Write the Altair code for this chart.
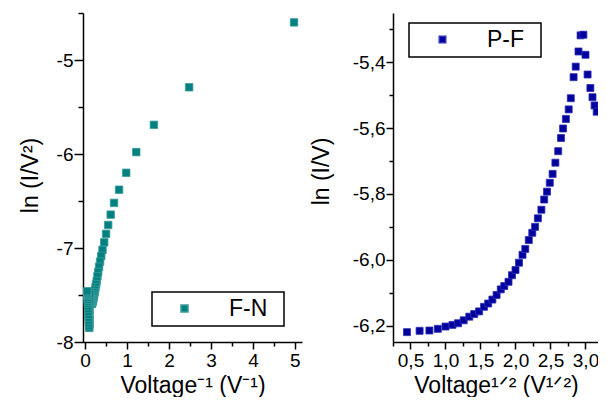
import altair as alt
import pandas as pd

FONT = "Arial, Liberation Sans, sans-serif"
TEAL = "#008080"
NAVY = "#00009c"

# F-N panel: Voltage^-1 vs ln(I/V^2)
fn_x = [4.98, 2.48, 1.64, 1.22, 0.98, 0.81, 0.69, 0.61, 0.55, 0.50,
        0.455, 0.415, 0.385, 0.357, 0.333, 0.312, 0.294, 0.277, 0.263, 0.25,
        0.238, 0.227, 0.217, 0.208, 0.20, 0.192, 0.185, 0.178, 0.172, 0.167,
        0.161, 0.156, 0.152, 0.147, 0.143, 0.139, 0.135, 0.132, 0.128, 0.125,
        0.122, 0.119, 0.116, 0.114, 0.111, 0.109, 0.106, 0.104, 0.102, 0.10,
        0.096, 0.092, 0.088, 0.085, 0.082, 0.079, 0.076, 0.073, 0.070, 0.068,
        0.066, 0.064, 0.062, 0.060, 0.058, 0.056, 0.054, 0.052]
fn_y = [-4.60, -5.29, -5.69, -5.98, -6.20, -6.38, -6.52, -6.645, -6.755, -6.85,
        -6.94, -7.02, -7.085, -7.145, -7.20, -7.255, -7.30, -7.35, -7.385, -7.415,
        -7.445, -7.47, -7.49, -7.51, -7.53, -7.545, -7.555, -7.57, -7.575, -7.585,
        -7.59, -7.595, -7.59, -7.59, -7.58, -7.575, -7.57, -7.57, -7.56, -7.525,
        -7.515, -7.495, -7.47, -7.49, -7.57, -7.655, -7.72, -7.77, -7.81, -7.85,
        -7.83, -7.80, -7.77, -7.74, -7.71, -7.68, -7.65, -7.62, -7.59, -7.57,
        -7.55, -7.53, -7.51, -7.50, -7.49, -7.48, -7.47, -7.46]

# P-F panel: Voltage^1/2 vs ln(I/V)
pf_x = [0.45, 0.63, 0.77, 0.89, 1.00, 1.10, 1.18, 1.26, 1.34, 1.41,
        1.48, 1.55, 1.61, 1.67, 1.73, 1.79, 1.84, 1.90, 1.95, 2.00,
        2.05, 2.10, 2.14, 2.19, 2.24, 2.28, 2.32, 2.37, 2.41, 2.45,
        2.49, 2.53, 2.57, 2.61, 2.65, 2.68, 2.72, 2.76, 2.79, 2.83,
        2.86, 2.90, 2.93, 2.97, 3.00, 3.03, 3.07, 3.10, 3.13, 3.16]
pf_y = [-6.220, -6.216, -6.215, -6.210, -6.203, -6.198, -6.193, -6.184, -6.173, -6.165,
        -6.157, -6.143, -6.133, -6.121, -6.107, -6.090, -6.080, -6.067, -6.047, -6.031,
        -6.009, -5.985, -5.967, -5.940, -5.918, -5.900, -5.874, -5.848, -5.817, -5.793,
        -5.766, -5.739, -5.705, -5.670, -5.630, -5.601, -5.572, -5.543, -5.509, -5.445,
        -5.413, -5.367, -5.318, -5.316, -5.377, -5.437, -5.478, -5.506, -5.531, -5.550]

fn_df = pd.DataFrame({"x": fn_x, "y": fn_y, "series": "F-N"})
pf_df = pd.DataFrame({"x": pf_x, "y": pf_y, "series": "P-F"})

left_x_ticks = [0, 0.5, 1, 1.5, 2, 2.5, 3, 3.5, 4, 4.5, 5]
left_y_ticks = [-8, -7.5, -7, -6.5, -6, -5.5, -5, -4.5]
right_x_ticks = [0.25, 0.5, 0.75, 1.0, 1.25, 1.5, 1.75, 2.0, 2.25, 2.5, 2.75, 3.0]
right_y_ticks = [-6.2, -6.1, -6.0, -5.9, -5.8, -5.7, -5.6, -5.5, -5.4, -5.3]


def tsize(test, minor, major):
    return {"condition": {"test": test, "value": minor}, "value": major}


int_minor = "datum.value % 1 !== 0"
int_label = "datum.value % 1 !== 0 ? '' : (datum.value < 0 ? '-' : '') + format(abs(datum.value), 'd')"
q_minor = "round(datum.value * 4) % 2 === 1"
q_label = "round(datum.value * 4) % 2 === 1 ? '' : replace(format(datum.value, '.1f'), '.', ',')"
t_minor = "round(abs(datum.value) * 10) % 2 === 1"
t_label = "round(abs(datum.value) * 10) % 2 === 1 ? '' : (datum.value < 0 ? '-' : '') + replace(format(abs(datum.value), '.1f'), '.', ',')"
legend_label = "datum.label + '\u00a0\u2009\u200b'"

left = alt.Chart(fn_df).mark_square(
    size=56, filled=True, opacity=1, stroke="#3c9c9a", strokeWidth=0.8, clip=True
).encode(
    x=alt.X("x:Q", scale=alt.Scale(domain=[-0.05, 5.17], nice=False, zero=False),
            axis=alt.Axis(title="Voltage\u207b\u00b9 (V\u207b\u00b9)", values=left_x_ticks,
                          labelExpr=int_label, tickSize=tsize(int_minor, 4, 7),
                          labelPadding=2, titleY=32, titleBaseline="top")),
    y=alt.Y("y:Q", scale=alt.Scale(domain=[-8, -4.5], nice=False, zero=False),
            axis=alt.Axis(title="ln (I/V\u00b2)", values=left_y_ticks,
                          labelExpr=int_label, tickSize=tsize(int_minor, 5, 9),
                          labelPadding=1, titleX=-41, titleY=162, titleBaseline="bottom")),
    color=alt.Color("series:N", scale=alt.Scale(domain=["F-N"], range=[TEAL]),
                    legend=alt.Legend(title=None, orient="none", legendX=69, legendY=279,
                                      strokeColor="black", padding=5, symbolType="square",
                                      symbolSize=49, symbolOffset=16, labelOffset=33,
                                      labelFontSize=23, labelFont=FONT, labelColor="black",
                                      labelExpr=legend_label))
).properties(width=219, height=329)

right = alt.Chart(pf_df).mark_square(
    size=49, filled=True, opacity=1, stroke="#3030b8", strokeWidth=0.8, clip=True
).encode(
    x=alt.X("x:Q", scale=alt.Scale(domain=[0.25, 3.193], nice=False, zero=False),
            axis=alt.Axis(title="Voltage\u00b9\u141f\u00b2 (V\u00b9\u141f\u00b2)", values=right_x_ticks,
                          labelExpr=q_label, tickSize=tsize(q_minor, 4, 7),
                          labelPadding=2, titleY=32, titleBaseline="top")),
    y=alt.Y("y:Q", scale=alt.Scale(domain=[-6.25, -5.25], nice=False, zero=False),
            axis=alt.Axis(title="ln (I/V)", values=right_y_ticks,
                          labelExpr=t_label, tickSize=tsize(t_minor, 4, 7),
                          labelPadding=1, titleX=-60, titleY=158, titleBaseline="bottom")),
    color=alt.Color("series:N", scale=alt.Scale(domain=["P-F"], range=[NAVY]),
                    legend=alt.Legend(title=None, orient="none", legendX=16, legendY=10,
                                      strokeColor="black", padding=5, symbolType="square",
                                      symbolSize=42, symbolOffset=17, labelOffset=33,
                                      labelFontSize=23, labelFont=FONT, labelColor="black",
                                      labelExpr=legend_label))
).properties(width=206, height=329)

chart = alt.hconcat(left, right, spacing=91, bounds="flush").resolve_scale(
    color="independent"
).resolve_legend(color="independent").properties(
    padding={"left": 11, "top": 4, "right": -1, "bottom": 0}
).configure_view(stroke=None).configure_axis(
    grid=False, domainColor="black", domainWidth=1.5, tickColor="black", tickWidth=1.5,
    labelFont=FONT, labelFontSize=19, labelColor="black",
    titleFont=FONT, titleFontSize=23, titleFontWeight="normal", titleColor="black"
).configure_legend(strokeWidth=1.5)

chart.save("out.html", embed_options={"renderer": "svg", "actions": False})
